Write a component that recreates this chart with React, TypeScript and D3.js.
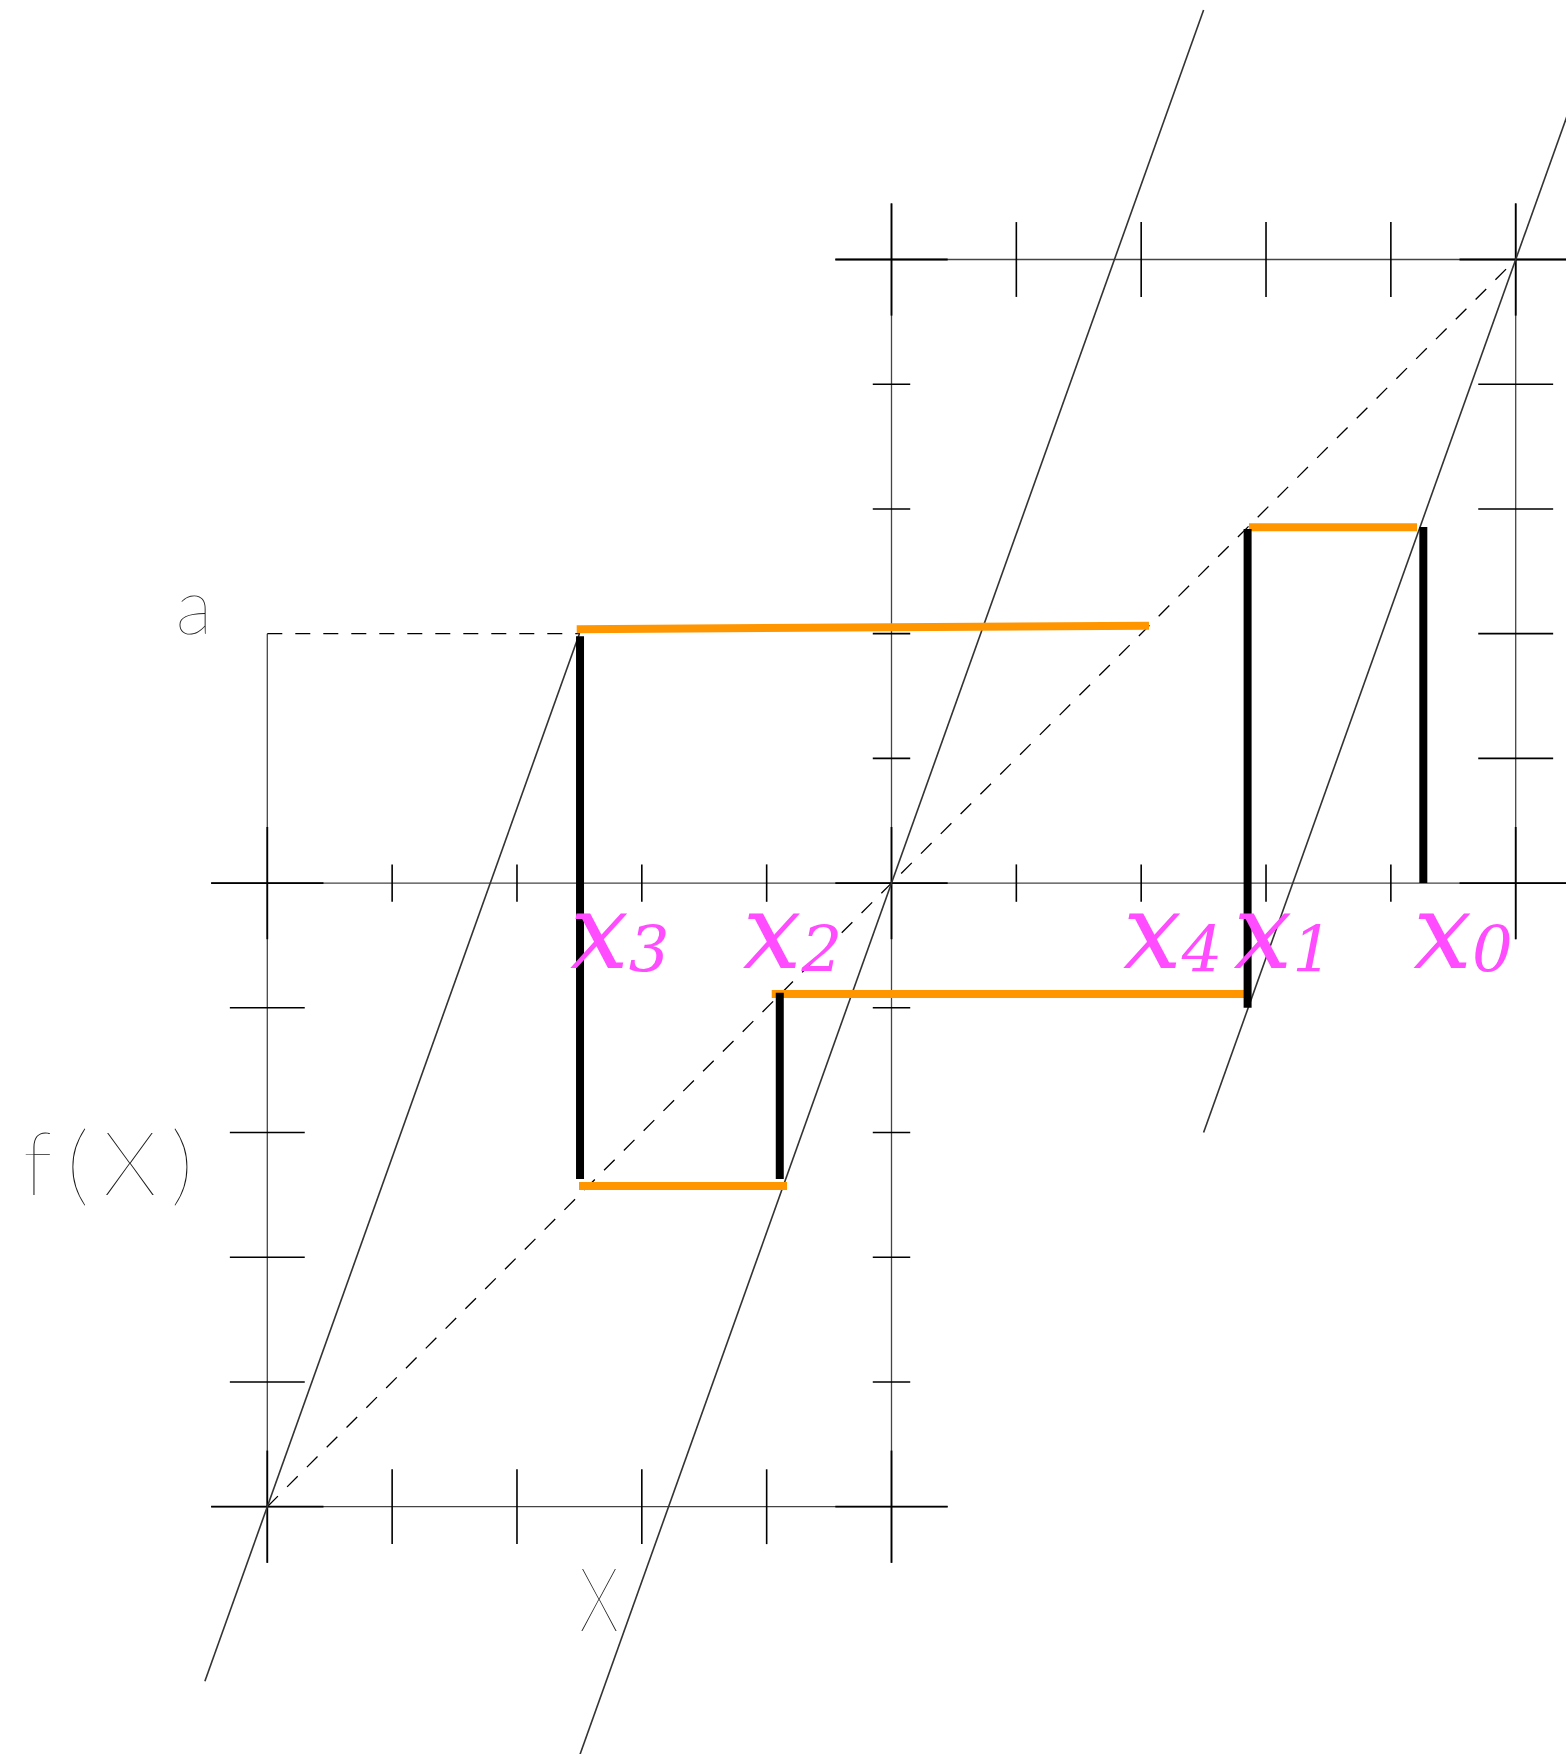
import React from "react";
import * as d3 from "d3";

const W = 1566;
const H = 1754;

// piecewise-linear map: three parallel branches
const slope = 2.8;
const branchBreaks = [-1.1, -0.5, 0.5, 1.1];
const branchShift = [1.8, 0, -1.8];

// threshold level "a"
const level = 0.4;

// tick values (each side of an axis)
const tickValues = [0.2, 0.4, 0.6, 0.8];

// orbit x0 … x4
const orbitX = [0.852, 0.5705, -0.179, -0.499, 0.4125];
const orbitIndex = ["0", "1", "2", "3", "4"];

// vertical steps (from axis/diagonal to the graph)
const riseFrom = [0, 0.568, -0.176, -0.4747];
const riseTo = [0.571, -0.2, -0.4747, 0.396];

// horizontal steps (from the graph to the diagonal)
const stepFromX = [0.8419, 0.5727, -0.1674, -0.5043];
const stepFromY = [0.5706, -0.1778, -0.4857, 0.407];
const stepToX = [0.5727, -0.1919, -0.5006, 0.4125];
const stepToY = [0.5706, -0.1778, -0.4857, 0.4128];

// horizontal nudges of the orbit labels (px)
const labelNudge = [-10, -14, -37, -10, -26];

const xs = d3.scaleLinear().domain([-1, 1]).range([267.3, 1515.7]);
const ys = d3.scaleLinear().domain([-1, 1]).range([1506.7, 259.5]);

const line = d3
  .line<[number, number]>()
  .x((d) => xs(d[0]))
  .y((d) => ys(d[1]));

type Seg = [[number, number], [number, number]];

export default function App() {
  // axis lines
  const axes: Seg[] = [
    [[-1.09, -1], [0.09, -1]],
    [[-1, -1.09], [-1, level]],
    [[-0.09, 1], [1.2, 1]],
    [[1, 1.09], [1, -0.09]],
    [[-1.09, 0], [1.2, 0]],
    [[0, -1.09], [0, 1.09]],
  ];

  // crosses at the box corners
  const corners: [number, number][] = [
    [-1, -1], [0, -1], [-1, 0], [0, 0], [1, 0], [0, 1], [1, 1],
  ];
  const crosses: Seg[] = [];
  corners.forEach(([cx, cy]) => {
    crosses.push([[cx - 0.09, cy], [cx + 0.09, cy]]);
    crosses.push([[cx, cy - 0.09], [cx, cy + 0.09]]);
  });

  // ticks
  const ticks: Seg[] = [];
  tickValues.forEach((t) => {
    ticks.push([[-t, -1.06], [-t, -0.94]]); // bottom
    ticks.push([[-1.06, -t], [-0.94, -t]]); // left
    ticks.push([[t, 0.94], [t, 1.06]]); // top
    ticks.push([[0.94, t], [1.06, t]]); // right
    [t, -t].forEach((v) => {
      ticks.push([[v, -0.03], [v, 0.03]]); // middle horizontal
      ticks.push([[-0.03, v], [0.03, v]]); // middle vertical
    });
  });

  // graph branches
  const branches: Seg[] = branchShift.map((s, i) => {
    const x0 = branchBreaks[i];
    const x1 = branchBreaks[i + 1];
    return [
      [x0, slope * x0 + s],
      [x1, slope * x1 + s],
    ];
  });

  const rises: Seg[] = riseFrom.map((y0, i) => [
    [orbitX[i], y0],
    [orbitX[i], riseTo[i]],
  ]);
  const steps: Seg[] = stepFromX.map((x0, i) => [
    [x0, stepFromY[i]],
    [stepToX[i], stepToY[i]],
  ]);

  const thin = { fontFamily: "Lato, 'Open Sans', sans-serif", fontWeight: 200, fill: "#1a1a1a" };

  return (
    <svg
      width={W}
      height={H}
      viewBox={`0 0 ${W} ${H}`}
      style={{ position: "absolute", left: 0, top: 0, background: "#fff" }}
    >
      <rect x={0} y={0} width={W} height={H} fill="#fff" />

      {/* axes */}
      <g fill="none" strokeLinecap="butt">
        {axes.map((s, i) => (
          <path key={"a" + i} d={line(s) ?? ""} stroke="#444" strokeWidth={1.3} />
        ))}
        {crosses.map((s, i) => (
          <path key={"c" + i} d={line(s) ?? ""} stroke="#000" strokeWidth={1.8} />
        ))}
        {ticks.map((s, i) => (
          <path key={"t" + i} d={line(s) ?? ""} stroke="#000" strokeWidth={1.6} />
        ))}
      </g>

      {/* diagonal y = x and level a */}
      <g fill="none" stroke="#000" strokeWidth={1.3} strokeDasharray="15,13">
        <path d={line([[-1, -1], [1, 1]]) ?? ""} />
        <path d={line([[-1, level], [orbitX[3], level]]) ?? ""} />
      </g>

      {/* map branches */}
      <g fill="none" stroke="#333" strokeWidth={1.6}>
        {branches.map((s, i) => (
          <path key={"b" + i} d={line(s) ?? ""} />
        ))}
      </g>

      {/* cobweb */}
      <g fill="none" strokeLinecap="butt">
        {steps.map((s, i) => (
          <path key={"s" + i} d={line(s) ?? ""} stroke="#ff9600" strokeWidth={8} />
        ))}
        {rises.map((s, i) => (
          <path key={"r" + i} d={line(s) ?? ""} stroke="#000" strokeWidth={8} />
        ))}
      </g>

      {/* orbit labels */}
      <g fill="#ff4cff" fontFamily="'DejaVu Serif', serif" fontStyle="italic">
        {orbitX.map((v, i) => (
          <text key={"l" + i} x={xs(v) + labelNudge[i]} y={968} fontSize={104}>
            x
            <tspan fontSize={64} dy={4}>
              {orbitIndex[i]}
            </tspan>
          </text>
        ))}
      </g>

      {/* axis labels */}
      <text x={xs(-1) - 55} y={ys(level)} fontSize={78} textAnchor="end" {...thin}>
        a
      </text>
      <text
        x={23}
        y={ys(-0.5)}
        fontSize={88}
        textLength={170}
        lengthAdjust="spacing"
        {...thin}
      >
        f(X)
      </text>
      <text
        x={xs(-0.5)}
        y={ys(-1.2)}
        fontSize={88}
        textLength={39}
        lengthAdjust="spacingAndGlyphs"
        {...thin}
      >
        X
      </text>
    </svg>
  );
}
